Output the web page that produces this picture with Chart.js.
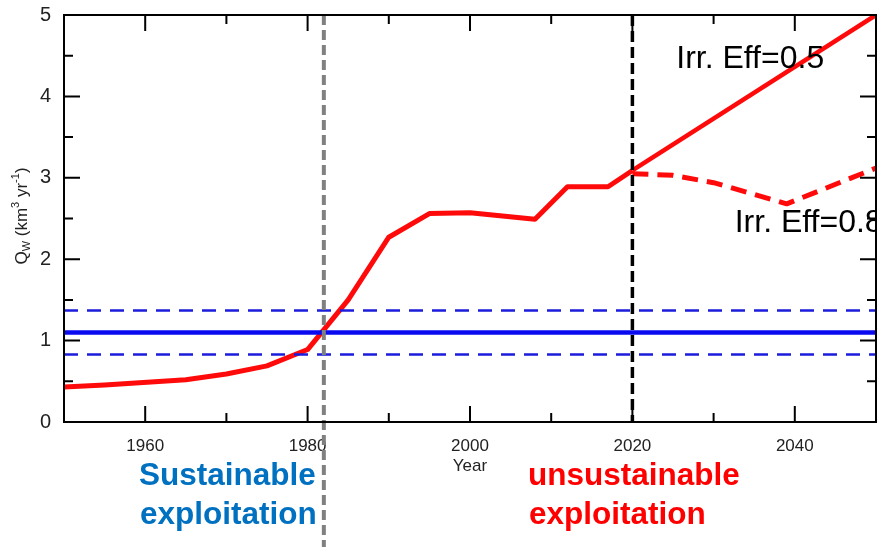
<!DOCTYPE html>
<html>
<head>
<meta charset="utf-8">
<script src="https://cdn.jsdelivr.net/npm/chart.js@4.4.1/dist/chart.umd.min.js"></script>
<style>
  html, body { margin: 0; padding: 0; background: #ffffff; }
  #wrap { width: 877px; height: 547px; position: relative; }
</style>
</head>
<body>
<div id="wrap"><canvas id="c" width="877" height="547"></canvas></div>
<script>
// Groundwater withdrawal Q_W (km3/yr): history and two irrigation-efficiency projections
const histYears   = [1950, 1955, 1965, 1970, 1975, 1980, 1985, 1990, 1995, 2000, 2008, 2012, 2017, 2020];
const histQw      = [0.43, 0.455, 0.52, 0.59, 0.69, 0.89, 1.5, 2.27, 2.56, 2.57, 2.49, 2.89, 2.89, 3.09];
const eff05Years  = [2020, 2050];
const eff05Qw     = [3.09, 5.0];
const eff08Years  = [2020, 2025, 2030, 2039, 2050];
const eff08Qw     = [3.05, 3.03, 2.94, 2.68, 3.12];

// Sustainable yield and its uncertainty band
const sustainableQw = 1.1;
const sustainableLow = 0.83;
const sustainableHigh = 1.37;
const yieldSpan = [1950, 2050];

// Reference years marked with vertical lines
const sustainableLimitYear = 1982;
const presentYear = 2020;

// Axis tick labels
const xTickYears = [1960, 1980, 2000, 2020, 2040];
const yTickValues = [0, 1, 2, 3, 4, 5];

const toPts = (xs, ys) => xs.map((x, i) => ({ x: x, y: ys[i] }));
const flat = v => yieldSpan.map(x => ({ x: x, y: v }));

const FONT = "'Liberation Sans', Arial, Helvetica, sans-serif";

const frame = {
  id: 'frame',
  afterDatasetsDraw(chart) {
    const { ctx, chartArea: a, scales: { x, y } } = chart;
    ctx.save();

    // vertical markers
    ctx.lineWidth = 4;
    ctx.strokeStyle = '#808080';
    ctx.setLineDash([10, 5]);
    let px = x.getPixelForValue(sustainableLimitYear);
    ctx.beginPath(); ctx.moveTo(px, a.top); ctx.lineTo(px, chart.height); ctx.stroke();

    ctx.lineWidth = 3.5;
    ctx.strokeStyle = '#000000';
    ctx.setLineDash([11, 5]);
    px = x.getPixelForValue(presentYear);
    ctx.beginPath(); ctx.moveTo(px, a.top); ctx.lineTo(px, a.bottom); ctx.stroke();
    ctx.setLineDash([]);

    // box
    ctx.lineWidth = 2;
    ctx.strokeStyle = '#000000';
    ctx.strokeRect(a.left, a.top, a.right - a.left, a.bottom - a.top);

    // inward ticks on all four sides
    ctx.lineWidth = 2;
    for (let v = x.min; v <= x.max; v += 10) {
      const p = x.getPixelForValue(v);
      const len = (v % 20 === 0) ? 16 : 9;
      ctx.beginPath();
      ctx.moveTo(p, a.bottom); ctx.lineTo(p, a.bottom - len);
      ctx.moveTo(p, a.top); ctx.lineTo(p, a.top + len);
      ctx.stroke();
    }
    for (let v = y.min; v <= y.max + 1e-9; v += 0.5) {
      const p = y.getPixelForValue(v);
      const len = (Math.abs(v - Math.round(v)) < 1e-9) ? 16 : 9;
      ctx.beginPath();
      ctx.moveTo(a.left, p); ctx.lineTo(a.left + len, p);
      ctx.moveTo(a.right, p); ctx.lineTo(a.right - len, p);
      ctx.stroke();
    }

    // curve labels
    ctx.fillStyle = '#000000';
    ctx.font = '32px ' + FONT;
    ctx.textAlign = 'left';
    ctx.textBaseline = 'alphabetic';
    ctx.fillText('Irr. Eff=0.5', x.getPixelForValue(2025.4), y.getPixelForValue(4.35));
    ctx.fillText('Irr. Eff=0.8', x.getPixelForValue(2032.6), y.getPixelForValue(2.34));

    // x axis title
    ctx.fillStyle = '#222222';
    ctx.font = '17px ' + FONT;
    ctx.textAlign = 'center';
    ctx.textBaseline = 'middle';
    ctx.fillText('Year', (a.left + a.right) / 2, 466);

    // y axis title with subscript / superscripts
    const parts = [
      { t: 'Q', s: 17, dy: 0 },
      { t: 'W', s: 11, dy: 5 },
      { t: ' (km', s: 17, dy: 0 },
      { t: '3', s: 11, dy: -6 },
      { t: ' yr', s: 17, dy: 0 },
      { t: '-1', s: 11, dy: -6 },
      { t: ')', s: 17, dy: 0 }
    ];
    let total = 0;
    parts.forEach(p => { ctx.font = p.s + 'px ' + FONT; p.w = ctx.measureText(p.t).width; total += p.w; });
    ctx.translate(22, 216);
    ctx.rotate(-Math.PI / 2);
    ctx.textAlign = 'left';
    ctx.textBaseline = 'middle';
    let cx = -total / 2;
    parts.forEach(p => {
      ctx.font = p.s + 'px ' + FONT;
      ctx.fillText(p.t, cx, p.dy);
      cx += p.w;
    });
    ctx.setTransform(1, 0, 0, 1, 0, 0);

    // regime labels below the axis
    ctx.font = 'bold 31.5px ' + FONT;
    ctx.textAlign = 'left';
    ctx.textBaseline = 'alphabetic';
    ctx.fillStyle = '#0070C0';
    ctx.fillText('Sustainable', 139, 485);
    ctx.fillText('exploitation', 140, 524);
    ctx.fillStyle = '#FF0000';
    ctx.fillText('unsustainable', 528, 485);
    ctx.fillText('exploitation', 529, 524);

    ctx.restore();
  }
};

new Chart(document.getElementById('c'), {
  type: 'line',
  data: {
    datasets: [
      { data: flat(sustainableHigh), borderColor: '#1c1cdc', borderWidth: 2.5, borderDash: [14, 9] },
      { data: flat(sustainableLow),  borderColor: '#1c1cdc', borderWidth: 2.5, borderDash: [14, 9] },
      { data: flat(sustainableQw),   borderColor: '#0a0af0', borderWidth: 4.5 },
      { data: toPts(eff08Years, eff08Qw), borderColor: '#ff0a0a', borderWidth: 5, borderDash: [16, 9] },
      { data: toPts(eff05Years, eff05Qw), borderColor: '#ff0a0a', borderWidth: 4.5 },
      { data: toPts(histYears, histQw),   borderColor: '#ff0a0a', borderWidth: 5 }
    ]
  },
  options: {
    responsive: false,
    animation: false,
    devicePixelRatio: 1,
    layout: { padding: { top: 15, right: 1, left: 0, bottom: 0 } },
    elements: { point: { radius: 0, hoverRadius: 0 }, line: { tension: 0, borderCapStyle: 'butt', borderJoinStyle: 'round', fill: false } },
    plugins: { legend: { display: false }, tooltip: { enabled: false } },
    scales: {
      x: {
        type: 'linear', min: 1950, max: 2050,
        grid: { display: false, drawTicks: false },
        border: { display: false },
        afterBuildTicks: s => { s.ticks = xTickYears.map(v => ({ value: v })); },
        afterFit: s => { s.height = 125; },
        ticks: { color: '#222222', padding: 14, maxRotation: 0, font: { family: FONT, size: 17 }, callback: v => String(v) }
      },
      y: {
        type: 'linear', min: 0, max: 5,
        grid: { display: false, drawTicks: false },
        border: { display: false },
        afterBuildTicks: s => { s.ticks = yTickValues.map(v => ({ value: v })); },
        afterFit: s => { s.width = 64; s.paddingTop = 10; s.paddingBottom = 10; },
        ticks: { color: '#222222', padding: 13, font: { family: FONT, size: 20 }, callback: v => String(v) }
      }
    }
  },
  plugins: [frame]
});
</script>
</body>
</html>
